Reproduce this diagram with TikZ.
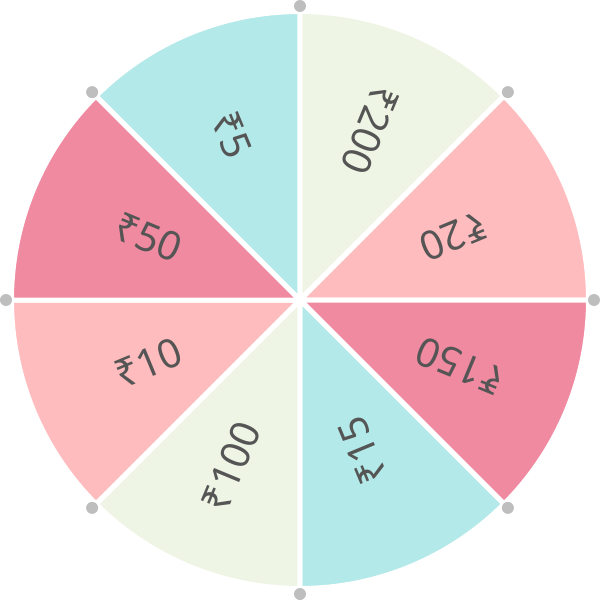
\documentclass[tikz,border=0pt]{standalone}
\usepackage{fontspec}
\setmainfont{Noto Sans}
\definecolor{cgreen}{RGB}{238,245,228}
\definecolor{cpink}{RGB}{255,188,190}
\definecolor{crose}{RGB}{240,138,160}
\definecolor{ccyan}{RGB}{179,233,233}
\definecolor{ctext}{RGB}{85,85,85}
\definecolor{cdot}{RGB}{190,190,190}
\tikzset{
  sector/.style={draw=white, line width=5pt, line join=miter},
  lbl/.style={text=ctext, font=\fontsize{40}{42}\selectfont, inner sep=0pt, anchor=center},
  vdot/.style={fill=cdot, draw=none}
}
\begin{document}
\begin{tikzpicture}[x=1pt,y=1pt]
\useasboundingbox (-300,-300) rectangle (300,300);
\def\R{288.5}
% sectors (pie wedges)
\fill[cgreen, sector] (0,0) -- (90:\R) arc[start angle=90, end angle=45, radius=\R] -- cycle;
\fill[cpink, sector] (0,0) -- (45:\R) arc[start angle=45, end angle=0, radius=\R] -- cycle;
\fill[crose, sector] (0,0) -- (0:\R) arc[start angle=0, end angle=-45, radius=\R] -- cycle;
\fill[ccyan, sector] (0,0) -- (-45:\R) arc[start angle=-45, end angle=-90, radius=\R] -- cycle;
\fill[cgreen, sector] (0,0) -- (-90:\R) arc[start angle=-90, end angle=-135, radius=\R] -- cycle;
\fill[cpink, sector] (0,0) -- (-135:\R) arc[start angle=-135, end angle=-180, radius=\R] -- cycle;
\fill[crose, sector] (0,0) -- (180:\R) arc[start angle=180, end angle=135, radius=\R] -- cycle;
\fill[ccyan, sector] (0,0) -- (135:\R) arc[start angle=135, end angle=90, radius=\R] -- cycle;
% labels
\node[lbl, rotate=247.5] (l200) at (67.5:184) {₹200};
\node[lbl, rotate=202.5] (l20) at (22.5:166) {₹20};
\node[lbl, rotate=157.5] (l150) at (-22.5:173) {₹150};
\node[lbl, rotate=112.5] (l15) at (-67.5:163) {₹15};
\node[lbl, rotate=67.5] (l100) at (-112.5:180) {₹100};
\node[lbl, rotate=22.5] (l10) at (-157.5:164) {₹10};
\node[lbl, rotate=-22.5] (l50) at (157.5:164) {₹50};
\node[lbl, rotate=-67.5] (l5) at (112.5:178) {₹5};
% vertex dots
\foreach \a in {0,45,...,315} {
  \fill[vdot] (\a:294) circle (6);
}
\end{tikzpicture}
\end{document}
